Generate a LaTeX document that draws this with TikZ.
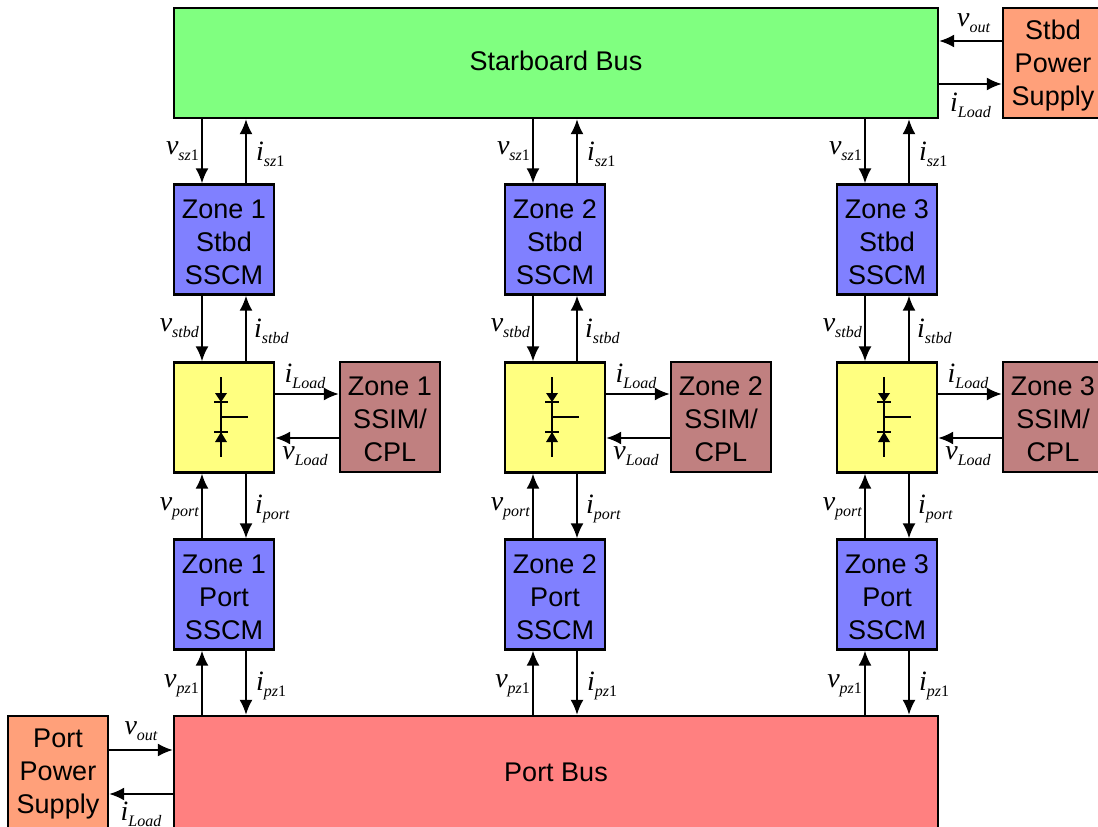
\documentclass[tikz,border=0pt]{standalone}
\usepackage{xcolor}
\usepackage{fontspec}
\setmainfont{Liberation Sans}
\newfontfamily\sigfont{Liberation Serif}
\usetikzlibrary{arrows.meta}

\definecolor{busgreen}{RGB}{128,255,128}
\definecolor{busred}{RGB}{255,128,128}
\definecolor{sscmblue}{RGB}{128,128,255}
\definecolor{convyellow}{RGB}{255,255,128}
\definecolor{loadbrown}{RGB}{192,128,128}
\definecolor{supplyorange}{RGB}{255,160,122}

\newcommand{\sig}[2]{{\sigfont\fontsize{28}{28}\selectfont\itshape #1}\raisebox{-6pt}{\sigfont\fontsize{16}{16}\selectfont\itshape #2}}
\newcommand{\zn}[1]{\upshape #1}

\tikzset{
    block/.style={draw=black, line width=2.2pt, align=center, inner sep=0pt, font=\fontsize{27}{33}\selectfont},
    unit/.style={block, minimum width=100pt, minimum height=110pt},
    sscm/.style={unit, fill=sscmblue, text height=89.3pt, text depth=0pt},
    conv/.style={unit, fill=convyellow},
    ssim/.style={unit, fill=loadbrown, text height=89.3pt, text depth=0pt},
    supply/.style={unit, fill=supplyorange},
    wire/.style={line width=2.2pt},
    sigl/.style={left, inner sep=2pt},
    sigr/.style={right, inner sep=1pt, xshift=8pt, yshift=-3pt},
    sigld/.style={sigl, yshift=-3pt}
}

\begin{document}
\begin{tikzpicture}[x=1pt, y=-1pt, >={Latex[length=15pt,width=13pt]}]
        \useasboundingbox (0,0) rectangle (1098,827);

        \node[block, fill=busgreen, minimum width=764pt, minimum height=110pt, text depth=4pt] (sbus) at (556,63) {Starboard Bus};
        \node[block, fill=busred, minimum width=764pt, minimum height=116pt, text depth=4pt] (pbus) at (556,774) {Port Bus};
        \node[supply, text depth=0pt] (spsu) at (1053,63) {Stbd\\Power\\Supply};
        \node[supply, minimum height=116pt] (ppsu) at (58,774) {Port\\Power\\Supply};

        \coordinate (top1) at (0,41);
        \coordinate (top2) at (0,84);
        \coordinate (bot1) at (0,750);
        \coordinate (bot2) at (0,794);
        \coordinate (lda) at (0,394);
        \coordinate (ldb) at (0,438);

        \draw[wire, ->] (spsu.west |- top1) -- node[above, inner sep=1pt, yshift=6pt, xshift=3pt] {\sig{v}{out}} (sbus.east |- top1);
        \draw[wire, ->] (sbus.east |- top2) -- node[below, inner sep=1pt, yshift=-7pt] {\sig{i}{Load}} (spsu.west |- top2);
        \draw[wire, ->] (ppsu.east |- bot1) -- node[above, inner sep=1pt, yshift=7pt] {\sig{v}{out}} (pbus.west |- bot1);
        \draw[wire, ->] (pbus.west |- bot2) -- node[below, inner sep=1pt, yshift=-6pt] {\sig{i}{Load}} (ppsu.east |- bot2);

        \foreach \z/\x in {1/174, 2/505, 3/837} {
            \node[sscm] (stbd\z) at (\x+50,239.5) {Zone \z\\Stbd\\SSCM};
            \node[conv] (sw\z) at (\x+50,417.5) {};
            \node[sscm] (port\z) at (\x+50,594.5) {Zone \z\\Port\\SSCM};
            \node[ssim] (load\z) at (\x+216,417) {Zone \z\\SSIM/\\CPL};

            \coordinate (va\z) at (\x+28,0);
            \coordinate (ia\z) at (\x+72,0);

            \draw[wire, ->] (sbus.south -| va\z) -- node[sigl] {\sig{v}{sz\zn{1}}} (stbd\z.north -| va\z);
            \draw[wire, ->] (stbd\z.north -| ia\z) -- node[sigr] {\sig{i}{sz\zn{1}}} (sbus.south -| ia\z);
            \draw[wire, ->] (stbd\z.south -| va\z) -- node[sigl] {\sig{v}{stbd}} (sw\z.north -| va\z);
            \draw[wire, ->] (sw\z.north -| ia\z) -- node[sigr, xshift=-2pt] {\sig{i}{stbd}} (stbd\z.south -| ia\z);
            \draw[wire, ->] (port\z.north -| va\z) -- node[sigld] {\sig{v}{port}} (sw\z.south -| va\z);
            \draw[wire, ->] (sw\z.south -| ia\z) -- node[sigr, xshift=-1pt] {\sig{i}{port}} (port\z.north -| ia\z);
            \draw[wire, ->] (pbus.north -| va\z) -- node[sigld] {\sig{v}{pz\zn{1}}} (port\z.south -| va\z);
            \draw[wire, ->] (port\z.south -| ia\z) -- node[sigr] {\sig{i}{pz\zn{1}}} (pbus.north -| ia\z);

            \draw[wire, ->] (sw\z.east |- lda) -- node[above, inner sep=1pt, yshift=3pt, xshift=-2pt] {\sig{i}{Load}} (load\z.west |- lda);
            \draw[wire, ->] (load\z.west |- ldb) -- node[below, inner sep=1pt, yshift=-7pt, xshift=-2pt] {\sig{v}{Load}} (sw\z.east |- ldb);

            % switch symbol
            \coordinate (sy\z) at (\x+47,417);
            \draw[line width=1.8pt] ([yshift=40pt]sy\z) -- ([yshift=-40pt]sy\z);
            \draw[line width=1.8pt] (sy\z) -- ++(27,0);
            \draw[line width=1.8pt] ([xshift=-7pt,yshift=15pt]sy\z) -- ++(14,0);
            \draw[line width=1.8pt] ([xshift=-7pt,yshift=-15pt]sy\z) -- ++(14,0);
            \fill ([xshift=-6pt,yshift=24pt]sy\z) -- ++(12,0) -- ([yshift=15pt]sy\z) -- cycle;
            \fill ([xshift=-6pt,yshift=-25pt]sy\z) -- ++(12,0) -- ([yshift=-15pt]sy\z) -- cycle;
        }
    \end{tikzpicture}
\end{document}
